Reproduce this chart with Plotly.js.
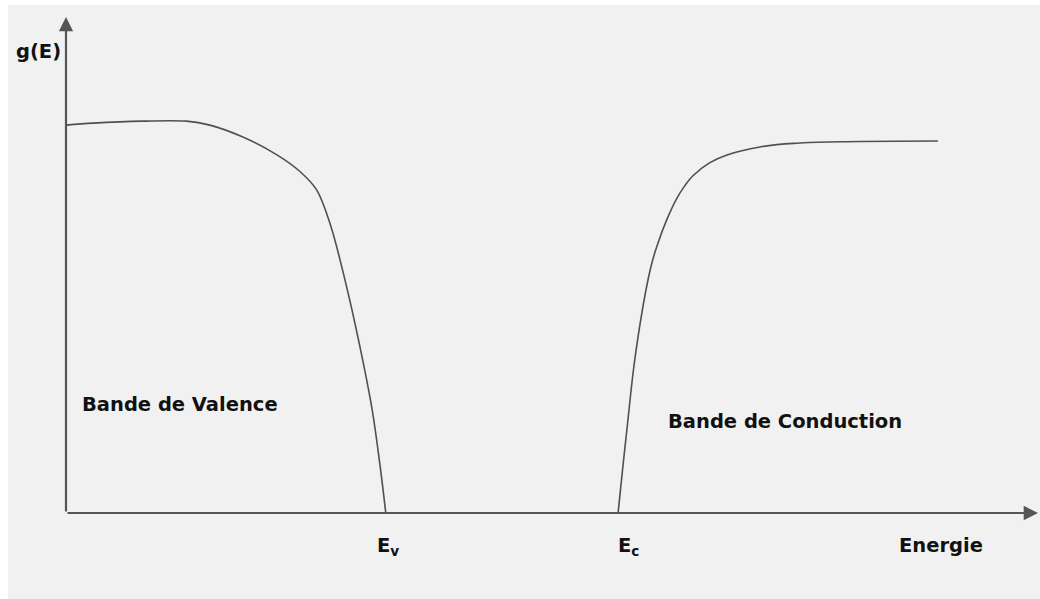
<!DOCTYPE html>
<html>
<head>
<meta charset="utf-8">
<script src="https://cdn.plot.ly/plotly-3.0.1.min.js"></script>
<style>
  html, body { margin: 0; padding: 0; background: #ffffff; }
  #chart { position: absolute; left: 8px; top: 5px; width: 1032px; height: 594px; }
</style>
</head>
<body>
<div id="chart"></div>
<script>
// Density of states g(E) on either side of the band gap (arbitrary units)
const valenceEnergy = [0, 0.28, 0.79, 1.24, 1.48, 1.82, 2.17, 2.41, 2.58, 2.72, 2.87, 3.02, 3.15, 3.23, 3.29];
const valenceDensity = [7.82, 7.86, 7.90, 7.90, 7.82, 7.58, 7.22, 6.88, 6.51, 5.81, 4.70, 3.39, 2.08, 0.97, 0];

const conductionEnergy = [5.68, 5.77, 5.87, 6.01, 6.09, 6.18, 6.28, 6.36, 6.45, 6.62, 6.80, 7.14, 7.55, 8.17, 8.97];
const conductionDensity = [0, 1.67, 3.35, 4.90, 5.44, 5.91, 6.33, 6.58, 6.80, 7.06, 7.22, 7.38, 7.46, 7.49, 7.50];

const Ev = 3.29;
const Ec = 5.68;
const energyMax = 10;
const densityMax = 10;

const axisColor = '#555555';
const curveColor = '#505050';
const textFont = { family: 'DejaVu Sans, Verdana, sans-serif', size: 19.5, color: '#111111', weight: 'bold' };

const traces = [
  { x: valenceEnergy, y: valenceDensity, mode: 'lines',
    line: { color: curveColor, width: 1.6, shape: 'spline', smoothing: 1.0 }, hoverinfo: 'skip' },
  { x: conductionEnergy, y: conductionDensity, mode: 'lines',
    line: { color: curveColor, width: 1.6, shape: 'spline', smoothing: 1.3 }, hoverinfo: 'skip' }
];

const annotations = [
  // axes with arrow tips
  { x: energyMax, y: 0, ax: 0, ay: 0, xref: 'x', yref: 'y', axref: 'x', ayref: 'y',
    text: '', showarrow: true, arrowhead: 2, arrowsize: 1.3, arrowwidth: 2.2, arrowcolor: axisColor },
  { x: 0, y: densityMax, ax: 0, ay: 0, xref: 'x', yref: 'y', axref: 'x', ayref: 'y',
    text: '', showarrow: true, arrowhead: 2, arrowsize: 1.3, arrowwidth: 2.2, arrowcolor: axisColor },
  // labels
  { x: 0, y: densityMax, xref: 'x', yref: 'y', text: 'g(E)', showarrow: false,
    xanchor: 'center', yanchor: 'middle', xshift: -28, yshift: -34, font: textFont },
  { x: Ev, y: 0, xref: 'x', yref: 'y', text: 'E<sub>v</sub>', showarrow: false,
    xanchor: 'center', yanchor: 'top', xshift: 2, yshift: -19, font: textFont },
  { x: Ec, y: 0, xref: 'x', yref: 'y', text: 'E<sub>c</sub>', showarrow: false,
    xanchor: 'center', yanchor: 'top', xshift: 10, yshift: -19, font: textFont },
  { x: 9.0, y: 0, xref: 'x', yref: 'y', text: 'Energie', showarrow: false,
    xanchor: 'center', yanchor: 'top', yshift: -19, font: textFont },
  { x: 0.14, y: 2.18, xref: 'x', yref: 'y', text: 'Bande de Valence', showarrow: false,
    xanchor: 'left', yanchor: 'middle', font: textFont },
  { x: 6.17, y: 1.85, xref: 'x', yref: 'y', text: 'Bande de Conduction', showarrow: false,
    xanchor: 'left', yanchor: 'middle', font: textFont }
];

const layout = {
  width: 1032, height: 594,
  margin: { l: 58, r: 2, t: 12, b: 86 },
  paper_bgcolor: '#f1f1f1',
  plot_bgcolor: '#f1f1f1',
  showlegend: false,
  xaxis: { range: [0, energyMax], showgrid: false, zeroline: false, showline: false,
           showticklabels: false, ticks: '', fixedrange: true },
  yaxis: { range: [0, densityMax], showgrid: false, zeroline: false, showline: false,
           showticklabels: false, ticks: '', fixedrange: true },
  annotations: annotations
};

Plotly.newPlot('chart', traces, layout, { displayModeBar: false, staticPlot: true });
</script>
</body>
</html>
